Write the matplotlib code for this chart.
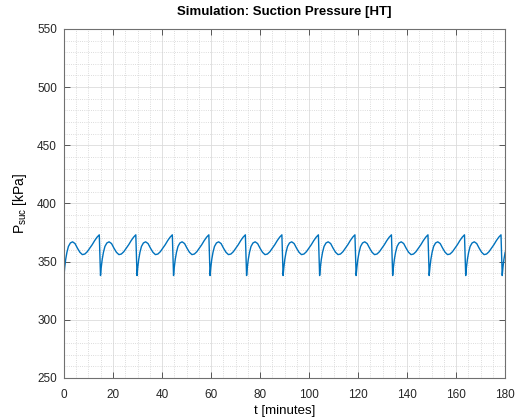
import numpy as np
import matplotlib
matplotlib.use('Agg')
import matplotlib.pyplot as plt
from matplotlib.ticker import MultipleLocator

plt.rcParams['font.family'] = ['Liberation Sans', 'DejaVu Sans']
plt.rcParams['mathtext.default'] = 'regular'

# one compressor cycle: minutes after the pressure drop, kPa
cycle_offset = [0.0, 0.3, 0.7, 1.2, 1.8, 2.6, 3.5, 4.5, 5.5, 6.5, 7.5, 8.5,
                9.5, 10.5, 11.5, 12.5, 13.5, 14.4]
cycle_value = [338, 345, 352, 358, 363, 366, 367, 365.5, 361.5, 358, 356, 356.5,
               358.5, 361.5, 364.5, 368, 371, 373]

# times (minutes) where each cycle restarts, read from the spikes
cycle_start = [0, 14.9, 29.8, 44.7, 59.6, 74.5, 89.4, 104.3, 119.2, 134.1,
               149.0, 163.9, 178.8]

t = []
p = []
for start in cycle_start:
    for off, val in zip(cycle_offset, cycle_value):
        if start + off <= 180.5:
            t.append(start + off)
            p.append(val)

fig = plt.figure(figsize=(5.16, 4.19), dpi=100)
ax = fig.add_axes([0.124, 0.098, 0.855, 0.833])

ax.plot(t, p, color='#0072BD', linewidth=1.0)

ax.set_xlim(0, 180)
ax.set_ylim(250, 550)
ax.xaxis.set_major_locator(MultipleLocator(20))
ax.xaxis.set_minor_locator(MultipleLocator(5))
ax.yaxis.set_major_locator(MultipleLocator(50))
ax.yaxis.set_minor_locator(MultipleLocator(10))

ax.grid(which='major', color='#dcdcdc', linestyle='-', linewidth=0.6)
ax.grid(which='minor', color='#d0d0d0', linestyle=':', linewidth=0.6)
ax.set_axisbelow(True)

ax.tick_params(which='major', direction='in', top=True, right=True, length=4,
               width=0.6, colors='#404040', labelsize=8.5, labelcolor='#262626')
ax.tick_params(axis='x', which='major', pad=8)
ax.tick_params(axis='y', which='major', pad=5)
ax.tick_params(which='minor', length=0)
for s in ax.spines.values():
    s.set_color('#707070')
    s.set_linewidth(0.8)

ax.set_title('Simulation: Suction Pressure [HT]', fontsize=9.5, fontweight='bold', pad=10)
ax.set_xlabel('t [minutes]', fontsize=9.5, labelpad=3)
ax.set_ylabel('P$_{suc}$ [kPa]', fontsize=10, labelpad=6)

plt.savefig('out.png', dpi=100)
